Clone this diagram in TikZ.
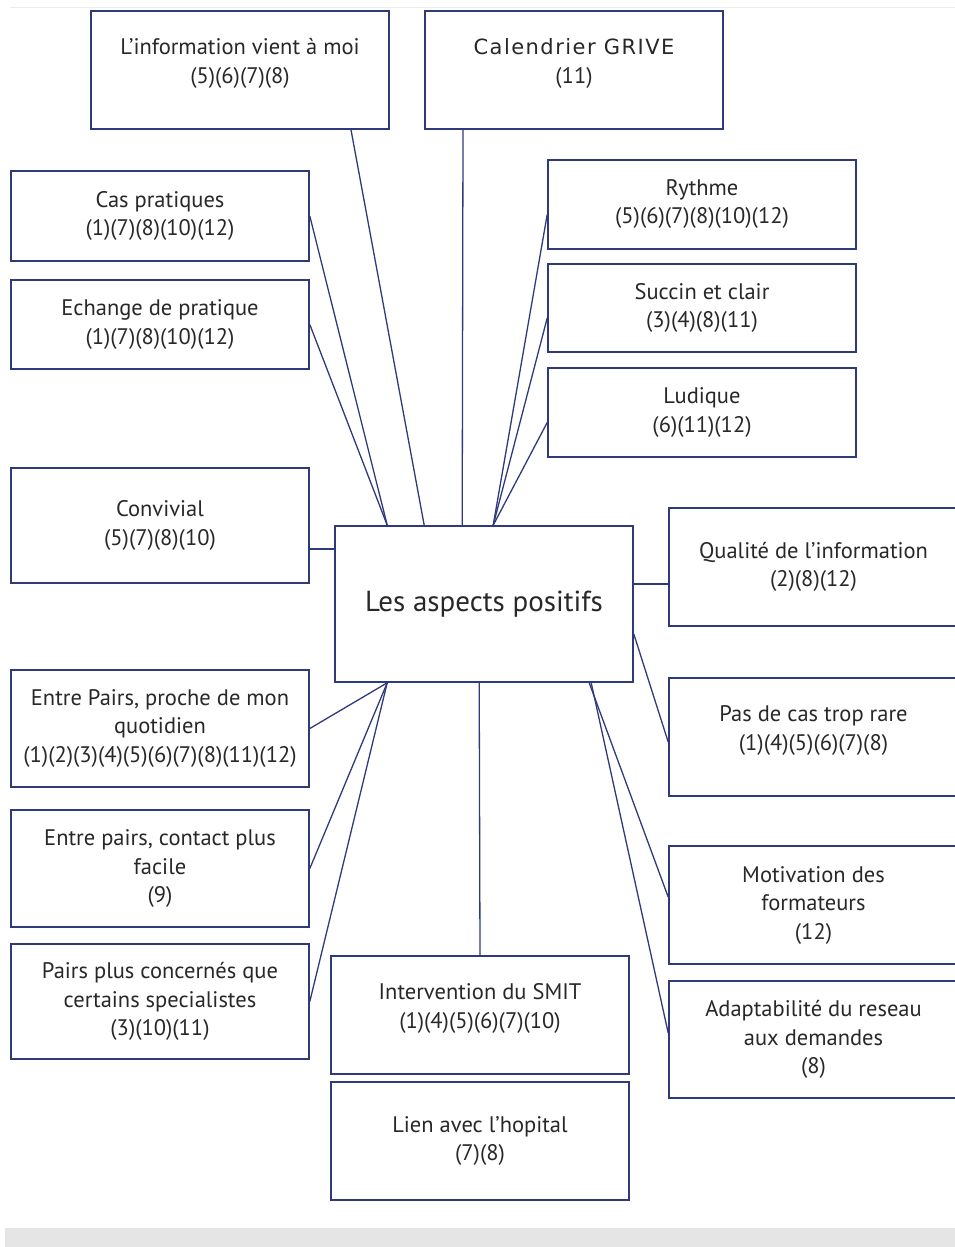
\documentclass[tikz,border=0pt]{standalone}
\usepackage{fontspec}
\setmainfont{PT Sans}
\newfontfamily\grivefont[LetterSpace=7]{DejaVu Sans}
\usetikzlibrary{positioning}
\definecolor{navy}{RGB}{46,58,122}
\definecolor{ink}{RGB}{40,40,40}
\begin{document}
\begin{tikzpicture}[x=1pt,y=-1pt]
				\tikzstyle{Box} 	= [draw=navy, line width=1.6pt, fill=white, inner sep=0pt, align=center, text=ink, font=\fontsize{22.5}{28.5}\selectfont]
				\tikzstyle{Wide}	= [minimum width=298pt]
				\tikzstyle{Center}	= [font=\fontsize{29}{34}\selectfont]
				\tikzstyle{Up}		= [text depth=18pt]
				\tikzstyle{Link}	= [navy, line width=1.3pt]
				
				\useasboundingbox (0,0) rectangle (955,1247);
				\fill [gray!20] (5,1228) rectangle (955,1247);
				\draw [gray!15, line width=1pt] (10,8) -- (955,8);
				
				\node (pos) at (484,604) [Box][Wide][Center][minimum height=156pt] {Les aspects positifs};
				
				\node (info) at (240,70) [Box][Wide][Up][minimum height=118pt] {L'information vient à moi\\(5)(6)(7)(8)};
				\node (grive) at (574,70) [Box][Wide][Up][minimum height=118pt] {{\grivefont\fontsize{21}{28.5}\selectfont Calendrier GRIVE}\\(11)};
				
				\node (cas) at (160,216) [Box][Wide][minimum height=90pt] {Cas pratiques\\(1)(7)(8)(10)(12)};
				\node (echange) at (160,324.5) [Box][Wide][minimum height=89pt] {Echange de pratique\\(1)(7)(8)(10)(12)};
				\node (convivial) at (160,525.5) [Box][Wide][minimum height=115pt] {Convivial\\(5)(7)(8)(10)};
				
				\node (rythme) at (702,204.5) [Box][minimum width=308pt, minimum height=89pt, text depth=6pt] {Rythme\\(5)(6)(7)(8)(10)(12)};
				\node (succin) at (702,308) [Box][minimum width=308pt, minimum height=88pt] {Succin et clair\\(3)(4)(8)(11)};
				\node (ludique) at (702,412.5) [Box][minimum width=308pt, minimum height=89pt] {Ludique\\(6)(11)(12)};
				
				\node (qualite) at (813.5,567) [Box][minimum width=289pt, minimum height=118pt] {Qualité de l'information\\(2)(8)(12)};
				\node (rare) at (813.5,737) [Box][Up][minimum width=289pt, minimum height=118pt] {Pas de cas trop rare\\(1)(4)(5)(6)(7)(8)};
				\node (motiv) at (813.5,905) [Box][minimum width=289pt, minimum height=118pt] {Motivation des\\formateurs\\(12)};
				\node (adapt) at (813.5,1039.5) [Box][minimum width=289pt, minimum height=117pt] {Adaptabilité du reseau\\aux demandes\\(8)};
				
				\node (proche) at (160,728.5) [Box][Wide][minimum height=117pt] {Entre Pairs, proche de mon\\quotidien\\(1)(2)(3)(4)(5)(6)(7)(8)(11)(12)};
				\node (contact) at (160,868.5) [Box][Wide][minimum height=117pt] {Entre pairs, contact plus\\facile\\(9)};
				\node (concernes) at (160,1001.5) [Box][Wide][minimum height=115pt] {Pairs plus concernés que\\certains specialistes\\(3)(10)(11)};
				
				\node (smit) at (480,1015) [Box][Wide][Up][minimum height=118pt] {Intervention du SMIT\\(1)(4)(5)(6)(7)(10)};
				\node (hopital) at (480,1141) [Box][Wide][minimum height=118pt] {Lien avec l'hopital\\(7)(8)};
				
				\draw [-] ([xshift=111pt]info.south) to ([xshift=90pt]pos.north west) [Link];
				\draw [-] ([xshift=-111pt]grive.south) to ([xshift=128pt]pos.north west) [Link];
				\draw [-] (cas.east) to ([xshift=53pt]pos.north west) [Link];
				\draw [-] (echange.east) to ([xshift=53pt]pos.north west) [Link];
				\draw [-] ([yshift=-10pt]rythme.west) to ([xshift=159pt]pos.north west) [Link];
				\draw [-] ([yshift=-10pt]succin.west) to ([xshift=159pt]pos.north west) [Link];
				\draw [-] ([yshift=-10pt]ludique.west) to ([xshift=159pt]pos.north west) [Link];
				\draw [-] ([yshift=-23.5pt]convivial.east) to ([yshift=55pt]pos.west) [Link];
				\draw [-] ([yshift=20pt]pos.east) to ([yshift=-17pt]qualite.west) [Link];
				\draw [-] ([yshift=-30pt]pos.east) to ([yshift=-5pt]rare.west) [Link];
				\draw [-] ([xshift=255pt]pos.south west) to ([yshift=8pt]motiv.west) [Link];
				\draw [-] ([xshift=257pt]pos.south west) to ([yshift=6.5pt]adapt.west) [Link];
				\draw [-] ([xshift=145pt]pos.south west) to (smit.north) [Link];
				\draw [-] ([xshift=53pt]pos.south west) to (proche.east) [Link];
				\draw [-] ([xshift=53pt]pos.south west) to (contact.east) [Link];
				\draw [-] ([xshift=53pt]pos.south west) to (concernes.east) [Link];
			\end{tikzpicture}
\end{document}
